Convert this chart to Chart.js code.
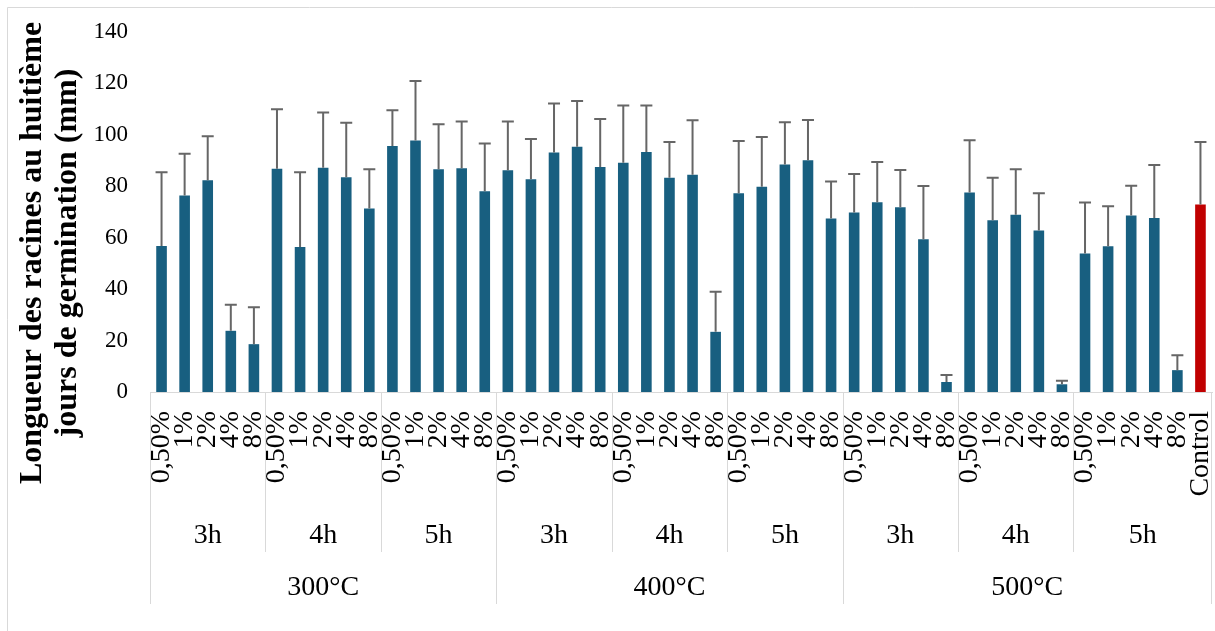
<!DOCTYPE html>
<html>
<head>
<meta charset="utf-8">
<script src="https://cdn.jsdelivr.net/npm/chart.js@4/dist/chart.umd.min.js"></script>
<style>
  html, body { margin: 0; padding: 0; background: #fff; }
  canvas { display: block; }
</style>
</head>
<body>
<canvas id="rootChart" width="1215" height="631"></canvas>
<script>
const temps = ["300°C", "400°C", "500°C"];
const times = ["3h", "4h", "5h"];
const doses = ["0,50%", "1%", "2%", "4%", "8%"];
const controlLabel = "Control";

// mean root length (mm), per temperature: 3h, 4h, 5h x doses
const mean300 = [56.8, 76.4, 82.3, 23.8, 18.6, 86.8, 56.4, 87.2, 83.5, 71.4, 95.7, 97.8, 86.6, 87.0, 78.1];
const mean400 = [86.2, 82.7, 93.1, 95.4, 87.5, 89.2, 93.3, 83.3, 84.5, 23.4, 77.3, 79.8, 88.5, 90.1, 67.5];
const mean500 = [69.8, 73.8, 71.8, 59.4, 3.9, 77.6, 66.8, 68.9, 62.8, 3.0, 53.9, 56.7, 68.6, 67.7, 8.5];
const controlMean = 72.9;

// standard deviation (upper error bar)
const sd300 = [28.7, 16.3, 17.2, 10.1, 14.4, 23.2, 29.1, 21.5, 21.2, 15.2, 13.9, 23.1, 17.5, 18.2, 18.5];
const sd400 = [19.0, 15.7, 19.1, 17.8, 18.7, 22.2, 18.1, 13.9, 21.2, 15.6, 20.3, 19.4, 16.4, 15.7, 14.4];
const sd500 = [15.0, 15.6, 14.5, 20.7, 2.7, 20.3, 16.5, 17.7, 14.5, 1.4, 19.8, 15.5, 11.6, 20.6, 5.8];
const controlSd = 24.3;

const yTicks = [0, 20, 40, 60, 80, 100, 120, 140];

const labels = [];
temps.forEach(() => times.forEach(() => doses.forEach(d => labels.push(d))));
labels.push(controlLabel);

const values = [...mean300, ...mean400, ...mean500, controlMean];
const errors = [...sd300, ...sd400, ...sd500, controlSd];
const colors = values.map((v, i) => i === values.length - 1 ? "#c00000" : "#185f80");

const serif = "'Liberation Serif', 'Times New Roman', serif";
const lineColor = "#d9d9d9";

const frame = {
  id: "frame",
  beforeDraw(chart) {
    const ctx = chart.ctx;
    ctx.save();
    ctx.fillStyle = "#fff";
    ctx.fillRect(0, 0, chart.width, chart.height);
    ctx.strokeStyle = lineColor;
    ctx.lineWidth = 1;
    ctx.beginPath();
    ctx.moveTo(7.5, chart.height + 2);
    ctx.lineTo(7.5, 7.5);
    ctx.lineTo(chart.width + 2, 7.5);
    ctx.stroke();
    ctx.restore();
  }
};

const errorBars = {
  id: "errorBars",
  afterDatasetsDraw(chart) {
    const ctx = chart.ctx;
    const y = chart.scales.y;
    const meta = chart.getDatasetMeta(0);
    ctx.save();
    ctx.strokeStyle = "#666666";
    ctx.lineWidth = 2;
    meta.data.forEach((bar, i) => {
      const top = y.getPixelForValue(values[i] + errors[i]);
      const base = y.getPixelForValue(values[i]);
      ctx.beginPath();
      ctx.moveTo(bar.x, base);
      ctx.lineTo(bar.x, top);
      ctx.moveTo(bar.x - 6, top);
      ctx.lineTo(bar.x + 6, top);
      ctx.stroke();
    });
    ctx.restore();
  }
};

const groupAxis = {
  id: "groupAxis",
  afterDraw(chart) {
    const ctx = chart.ctx;
    const x = chart.scales.x;
    const area = chart.chartArea;
    const n = labels.length;
    const edge = i => {
      if (i <= 0) return area.left;
      if (i >= n) return area.right;
      return (x.getPixelForValue(i - 1) + x.getPixelForValue(i)) / 2;
    };
    const axisY = area.bottom;
    const midBottom = axisY + 160;
    const lowBottom = axisY + 212;

    ctx.save();
    ctx.strokeStyle = lineColor;
    ctx.lineWidth = 1;
    const vline = (px, y2) => {
      const xx = Math.round(px) + 0.5;
      ctx.beginPath();
      ctx.moveTo(xx, axisY);
      ctx.lineTo(xx, y2);
      ctx.stroke();
    };
    for (let g = 0; g < 9; g++) {
      vline(edge(g * 5), g % 3 === 0 ? lowBottom : midBottom);
    }
    vline(edge(n) - 1, lowBottom);

    ctx.fillStyle = "#000";
    ctx.font = "28px " + serif;
    ctx.textAlign = "center";
    ctx.textBaseline = "middle";
    for (let g = 0; g < 9; g++) {
      const end = g === 8 ? n : (g + 1) * 5;
      ctx.fillText(times[g % 3], (edge(g * 5) + edge(end)) / 2, axisY + 144);
    }
    temps.forEach((t, k) => {
      const end = k === 2 ? n : (k + 1) * 15;
      ctx.fillText(t, (edge(k * 15) + edge(end)) / 2, axisY + 196);
    });

    // y axis title, two lines
    ctx.font = "bold 32px " + serif;
    ctx.translate(50, 253);
    ctx.rotate(-Math.PI / 2);
    ctx.fillText("Longueur des racines au huitième", 0, -17);
    ctx.fillText("jours de germination (mm)", 0, 18);
    ctx.restore();
  }
};

new Chart(document.getElementById("rootChart"), {
  type: "bar",
  data: {
    labels,
    datasets: [{
      data: values,
      backgroundColor: colors,
      categoryPercentage: 1,
      barPercentage: 0.46
    }]
  },
  options: {
    responsive: false,
    animation: false,
    layout: { padding: { top: 32, right: 3, left: 0, bottom: 0 } },
    plugins: { legend: { display: false }, tooltip: { enabled: false } },
    scales: {
      x: {
        grid: { display: false },
        border: { display: true, color: lineColor, width: 1 },
        ticks: {
          autoSkip: false,
          minRotation: 90,
          maxRotation: 90,
          padding: 11,
          color: "#000",
          font: { family: serif, size: 28 }
        },
        afterFit: s => {
          s.height = 239;
          s.paddingLeft = 0;
          s.paddingRight = 0;
        }
      },
      y: {
        min: 0,
        max: 140,
        grid: { display: false },
        border: { display: false },
        afterBuildTicks: s => { s.ticks = yTicks.map(v => ({ value: v })); },
        ticks: {
          padding: 14,
          color: "#000",
          font: { family: serif, size: 23 }
        },
        afterFit: s => { s.width = 150; }
      }
    }
  },
  plugins: [frame, errorBars, groupAxis]
});
</script>
</body>
</html>
